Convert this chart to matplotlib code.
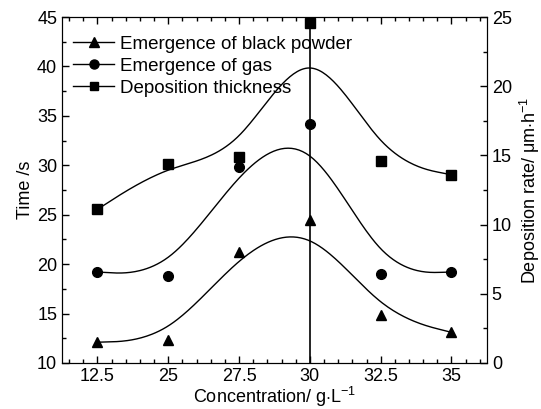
import numpy as np
import matplotlib
matplotlib.use("Agg")
import matplotlib.pyplot as plt
from matplotlib.ticker import MultipleLocator
from matplotlib.lines import Line2D

plt.rcParams['font.family'] = ['Liberation Sans', 'DejaVu Sans']
plt.rcParams['mathtext.fontset'] = 'custom'
plt.rcParams['mathtext.rm'] = 'Liberation Sans'
plt.rcParams['mathtext.it'] = 'Liberation Sans'

concentration = ['12.5', '25', '27.5', '30', '32.5', '35']
black_powder = [12.1, 12.3, 21.2, 24.5, 14.9, 13.1]   # Time /s
gas = [19.2, 18.8, 29.8, 34.2, 19.0, 19.2]            # Time /s
thickness = [11.1, 14.4, 14.9, 24.6, 14.6, 13.6]      # Deposition rate


def bspline(px, py, n=40):
    # uniform cubic B-spline, end points tripled so the curve starts/ends on them
    P = np.column_stack([px, py]).astype(float)
    P = np.vstack([P[:1], P[:1], P, P[-1:], P[-1:]])
    u = np.linspace(0, 1, n)
    b0 = (1 - u) ** 3 / 6
    b1 = (3 * u ** 3 - 6 * u ** 2 + 4) / 6
    b2 = (-3 * u ** 3 + 3 * u ** 2 + 3 * u + 1) / 6
    b3 = u ** 3 / 6
    pts = []
    for i in range(len(P) - 3):
        seg = (np.outer(b0, P[i]) + np.outer(b1, P[i + 1])
               + np.outer(b2, P[i + 2]) + np.outer(b3, P[i + 3]))
        pts.append(seg)
    pts = np.vstack(pts)
    return pts[:, 0], pts[:, 1]


x = np.arange(1, len(concentration) + 1)

fig, ax = plt.subplots(figsize=(5.41, 4.09), dpi=100)
fig.subplots_adjust(left=0.1146, right=0.900, bottom=0.1125, top=0.9584)
ax2 = ax.twinx()

ax.axvline(4, color='black', lw=1.2)

for vals, marker, axis in [(black_powder, '^', ax), (gas, 'o', ax), (thickness, 's', ax2)]:
    cx, cy = bspline(x, vals)
    axis.plot(cx, cy, color='black', lw=1.0)
    axis.plot(x, vals, linestyle='none', marker=marker, color='black',
              markersize=7.5 if marker == '^' else 7)

ax.set_xlim(0.5, 6.5)
ax.set_ylim(10, 45)
ax2.set_ylim(0, 25)
ax.set_xticks(x)
ax.set_xticklabels(concentration)
ax.xaxis.set_minor_locator(MultipleLocator(0.2))
ax.yaxis.set_major_locator(MultipleLocator(5))
ax.yaxis.set_minor_locator(MultipleLocator(2.5))
ax2.yaxis.set_major_locator(MultipleLocator(5))
ax2.yaxis.set_minor_locator(MultipleLocator(2.5))

ax.tick_params(axis='both', which='both', direction='in', labelsize=13, width=1)
ax.tick_params(axis='x', which='both', top=True)
ax.tick_params(which='major', length=5)
ax.tick_params(which='minor', length=3)
ax2.tick_params(which='both', direction='in', labelsize=13, width=1)
ax2.tick_params(which='major', length=5)
ax2.tick_params(which='minor', length=3)

ax.set_xlabel(r'Concentration/ g$\cdot$L$^{-1}$', fontsize=13, labelpad=0)
ax.set_ylabel('Time /s', fontsize=13, labelpad=2)
ax2.set_ylabel(r'Deposition rate/ $\mathregular{\mu}$m$\cdot$h$^{-1}$', fontsize=13, labelpad=4)

handles = [
    Line2D([], [], color='black', lw=1, marker='^', markersize=7),
    Line2D([], [], color='black', lw=1, marker='o', markersize=6.5),
    Line2D([], [], color='black', lw=1, marker='s', markersize=6),
]
labels = ['Emergence of black powder', 'Emergence of gas', 'Deposition thickness']
ax2.legend(handles, labels, loc='upper left', bbox_to_anchor=(0, 0.978),
           frameon=False, fontsize=13.5, handlelength=2.2, handletextpad=0.3,
           labelspacing=0.26, borderaxespad=0.2)

fig.savefig('out.png', dpi=100)
